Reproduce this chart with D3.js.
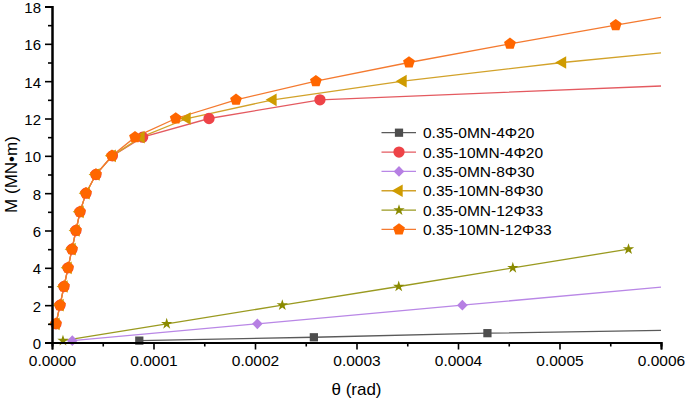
<!DOCTYPE html>
<html>
<head>
<meta charset="utf-8">
<script src="https://cdn.jsdelivr.net/npm/d3@7"></script>
<style>
  html, body { margin: 0; padding: 0; background: #fff; }
  svg { display: block; font-family: "Liberation Sans", Arial, sans-serif; }
</style>
</head>
<body>
<svg id="chart" width="685" height="402"></svg>
<script>
// ---------- data ----------
const seriesNames = ["0.35-0MN-4Φ20", "0.35-10MN-4Φ20", "0.35-0MN-8Φ30", "0.35-10MN-8Φ30", "0.35-0MN-12Φ33", "0.35-10MN-12Φ33"];

const theta_0MN_4F20 = [0.0000860, 0.0002580, 0.0004290];
const M_0MN_4F20     = [0.1, 0.28, 0.5];

const theta_10MN_4F20 = [0.0000039, 0.0000079, 0.0000118, 0.0000158, 0.0000197, 0.0000236, 0.0000276, 0.0000335, 0.0000433, 0.0000595, 0.0000893, 0.0001547, 0.0002640];
const M_10MN_4F20     = [1, 2, 3, 4, 5, 6, 7, 8, 9, 10, 11, 12, 13];

const theta_0MN_8F30 = [0.0000200, 0.0002023, 0.0004043];
const M_0MN_8F30     = [0.1, 1, 2];

const theta_10MN_8F30 = [0.0000039, 0.0000079, 0.0000118, 0.0000158, 0.0000197, 0.0000236, 0.0000276, 0.0000335, 0.0000433, 0.0000593, 0.0000877, 0.0001330, 0.0002177, 0.0003458, 0.0005030];
const M_10MN_8F30     = [1, 2, 3, 4, 5, 6, 7, 8, 9, 10, 11, 12, 13, 14, 15];

const theta_0MN_12F33 = [0.0000108, 0.0001130, 0.0002269, 0.0003416, 0.0004540, 0.0005680];
const M_0MN_12F33     = [0.1, 1, 2, 3, 4, 5];

const theta_10MN_12F33 = [0.0000039, 0.0000079, 0.0000118, 0.0000158, 0.0000197, 0.0000236, 0.0000276, 0.0000335, 0.0000433, 0.0000591, 0.0000818, 0.0001219, 0.0001813, 0.0002600, 0.0003517, 0.0004512, 0.0005554];
const M_10MN_12F33     = [1, 2, 3, 4, 5, 6, 7, 8, 9, 10, 11, 12, 13, 14, 15, 16, 17];

// where each curve's line leaves the plot on the right (null = ends at last marker)
const lineEndTheta = [0.0006, 0.0006, 0.0006, 0.0006, null, 0.0006];
const lineEndM     = [0.65, 13.74, 2.97, 15.52, null, 17.42];

const xTicks = [0, 0.0001, 0.0002, 0.0003, 0.0004, 0.0005, 0.0006];
const yTicks = [0, 2, 4, 6, 8, 10, 12, 14, 16, 18];
const xTitle = "θ (rad)";
const yTitle = "M (MN•m)";

// ---------- styles ----------
const thetaArr = [theta_0MN_4F20, theta_10MN_4F20, theta_0MN_8F30, theta_10MN_8F30, theta_0MN_12F33, theta_10MN_12F33];
const mArr = [M_0MN_4F20, M_10MN_4F20, M_0MN_8F30, M_10MN_8F30, M_0MN_12F33, M_10MN_12F33];
const fillColors = ["#4d4d4d", "#ee4347", "#b67fe3", "#cf9b00", "#8a8a00", "#ff6600"];
const lineColors = ["#5a5a5a", "#e45a60", "#b987e6", "#d2a22a", "#9a9a20", "#f47a30"];

// custom symbols
const symPentagon = {
  draw(ctx, size) {
    const r = Math.sqrt(size / 2.3776);
    for (let i = 0; i < 5; i++) {
      const a = -Math.PI / 2 + i * 2 * Math.PI / 5;
      const px = r * Math.cos(a), py = r * Math.sin(a);
      if (i === 0) ctx.moveTo(px, py); else ctx.lineTo(px, py);
    }
    ctx.closePath();
  }
};
const symDiamond = {
  draw(ctx, size) {
    const r = Math.sqrt(size / 2);
    ctx.moveTo(0, -r); ctx.lineTo(r, 0); ctx.lineTo(0, r); ctx.lineTo(-r, 0); ctx.closePath();
  }
};
const symTriLeft = {
  draw(ctx, size) {
    const s = Math.sqrt(size * 4 / Math.sqrt(3));
    const h = s * Math.sqrt(3) / 2;
    ctx.moveTo(-h * 2 / 3, 0); ctx.lineTo(h / 3, -s / 2); ctx.lineTo(h / 3, s / 2); ctx.closePath();
  }
};
const symbols = [d3.symbolSquare, d3.symbolCircle, symDiamond, symTriLeft, d3.symbolStar, symPentagon];
const symSizes = [68, 100, 56, 70, 40, 92];

// ---------- layout ----------
const svg = d3.select("#chart");
const mLeft = 52, mRight = 661, mTop = 6.5, mBottom = 342.5;
const x = d3.scaleLinear().domain([0, 0.0006]).range([mLeft, mRight]);
const y = d3.scaleLinear().domain([0, 18]).range([mBottom, mTop]);

// axes
const fmt = d3.format(".4f");
const xAxis = d3.axisBottom(x).tickValues(xTicks).tickFormat(fmt).tickSize(7).tickPadding(5);
const xMinor = d3.axisBottom(x).tickValues(d3.range(0.00005, 0.0006, 0.0001)).tickFormat("").tickSize(4);
const yAxis = d3.axisLeft(y).tickValues(yTicks).tickFormat(d3.format("d")).tickSize(7).tickPadding(4);
const yMinor = d3.axisLeft(y).tickValues(d3.range(1, 18, 2)).tickFormat("").tickSize(4);

function styleAxis(g) {
  g.selectAll("path.domain").attr("stroke", "#000").attr("stroke-width", 2);
  g.selectAll(".tick line").attr("stroke", "#000").attr("stroke-width", 1.6);
  g.selectAll(".tick text").attr("fill", "#000").attr("font-size", 15.5).attr("font-family", "Liberation Sans, Arial, sans-serif");
}

// lines
const line = d3.line().x(d => x(d[0])).y(d => y(d[1]));
const series = seriesNames.map((n, i) => {
  const pts = thetaArr[i].map((t, j) => [t, mArr[i][j]]);
  const linePts = pts.slice();
  if (lineEndTheta[i] !== null) linePts.push([lineEndTheta[i], lineEndM[i]]);
  return { name: n, pts, linePts, i };
});

const gLines = svg.append("g");
series.forEach(s => {
  gLines.append("path").attr("d", line(s.linePts)).attr("fill", "none")
    .attr("stroke", lineColors[s.i]).attr("stroke-width", 1.3);
});
const gPts = svg.append("g");
series.forEach(s => {
  const sym = d3.symbol().type(symbols[s.i]).size(symSizes[s.i]);
  gPts.selectAll(null).data(s.pts).enter().append("path")
    .attr("d", sym)
    .attr("transform", d => `translate(${x(d[0])},${y(d[1])})`)
    .attr("fill", fillColors[s.i]);
});

svg.append("g").attr("transform", `translate(0,${mBottom})`).call(xMinor).call(styleAxis);
svg.append("g").attr("transform", `translate(${mLeft},0)`).call(yMinor).call(styleAxis);
svg.append("g").attr("transform", `translate(0,${mBottom})`).call(xAxis).call(styleAxis);
const gy = svg.append("g").attr("transform", `translate(${mLeft},0)`).call(yAxis).call(styleAxis);
gy.selectAll(".tick text").attr("font-size", 15).attr("dy", "0.4em");

// axis titles
svg.append("text").attr("x", (mLeft + mRight) / 2).attr("y", 395).attr("text-anchor", "middle")
  .attr("font-size", 17).attr("fill", "#000").text(xTitle);
svg.append("text").attr("transform", `translate(17,${(mTop + mBottom) / 2}) rotate(-90)`)
  .attr("text-anchor", "middle").attr("font-size", 17).attr("fill", "#000").text(yTitle);

// legend
const lg = svg.append("g");
seriesNames.forEach((n, i) => {
  const ly = 132.7 + i * 19.35;
  lg.append("line").attr("x1", 381.5).attr("x2", 416).attr("y1", ly).attr("y2", ly)
    .attr("stroke", lineColors[i]).attr("stroke-width", 1.3);
  lg.append("path").attr("d", d3.symbol().type(symbols[i]).size(symSizes[i])())
    .attr("transform", `translate(399,${ly})`).attr("fill", fillColors[i]);
  lg.append("text").attr("x", 423).attr("y", ly).attr("dy", "0.36em")
    .attr("font-size", 15.5).attr("fill", "#000").text(n);
});
</script>
</body>
</html>
